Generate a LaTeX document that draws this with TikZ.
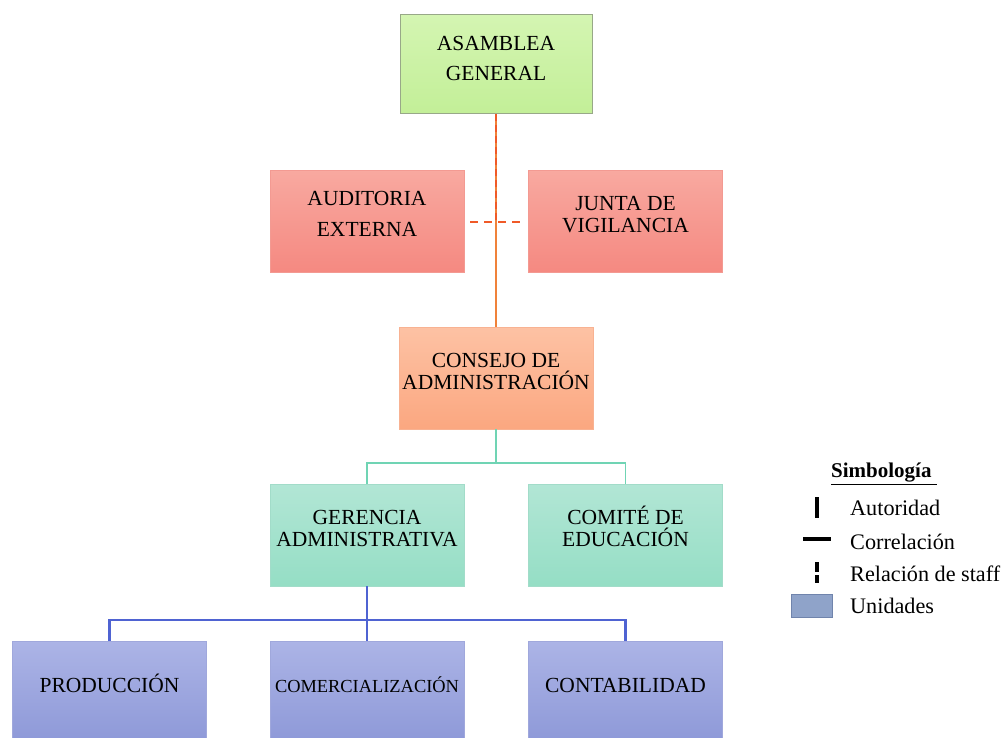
\documentclass[tikz,border=0pt]{standalone}
\usepackage{fontspec}
\setmainfont{Liberation Serif}

\definecolor{asTop}{HTML}{D4F5B2}
\definecolor{asBot}{HTML}{C3EF98}
\definecolor{asLine}{HTML}{98A888}
\definecolor{rojoTop}{HTML}{F8A9A0}
\definecolor{rojoBot}{HTML}{F58981}
\definecolor{rojoLine}{HTML}{F39A92}
\definecolor{naTop}{HTML}{FDC2A4}
\definecolor{naBot}{HTML}{FBA780}
\definecolor{naLine}{HTML}{F8B292}
\definecolor{veTop}{HTML}{B2E6D5}
\definecolor{veBot}{HTML}{95DEC5}
\definecolor{veLine}{HTML}{A2DCC9}
\definecolor{azTop}{HTML}{ACB4E6}
\definecolor{azBot}{HTML}{8E99D8}
\definecolor{azLine}{HTML}{A0A8DC}
\definecolor{staffC}{HTML}{F05A28}
\definecolor{autC}{HTML}{F0823A}
\definecolor{corrC}{HTML}{70D4B4}
\definecolor{unidC}{HTML}{4F63D2}
\definecolor{legFill}{HTML}{8FA3C9}
\definecolor{legLine}{HTML}{7084AC}

\begin{document}
\begin{tikzpicture}[x=1pt, y=-1pt,
  box/.style={minimum width=194pt, minimum height=102pt, inner sep=0pt, align=center,
    line width=0.8pt, text height=37pt, text depth=13.4pt,
    font=\fontsize{21.5}{22}\selectfont},
  unidadbox/.style={box, minimum height=100pt, text height=15pt, text depth=11.4pt,
    top color=azTop, bottom color=azBot, draw=azLine},
  leyenda/.style={anchor=west, inner sep=0pt, font=\fontsize{22.2}{24}\selectfont}]
  \useasboundingbox (0,0) rectangle (1004,737);

  % cajas
  \node[box, minimum width=192pt, minimum height=99pt, text height=45pt, text depth=12.4pt, top color=asTop, bottom color=asBot, draw=asLine] (asamblea) at (496,64) {ASAMBLEA\\[8pt]GENERAL};
  \node[box, text height=46pt, text depth=14.4pt, top color=rojoTop, bottom color=rojoBot, draw=rojoLine] (auditoria) at (367,221) {AUDITORIA\\[9pt]EXTERNA};
  \node[box, top color=rojoTop, bottom color=rojoBot, draw=rojoLine] (junta) at (625.5,221) {JUNTA DE\\VIGILANCIA};
  \node[box, top color=naTop, bottom color=naBot, draw=naLine] (consejo) at (496,378) {CONSEJO DE\\ADMINISTRACIÓN};
  \node[box, top color=veTop, bottom color=veBot, draw=veLine] (gerencia) at (367,535) {GERENCIA\\ADMINISTRATIVA};
  \node[box, top color=veTop, bottom color=veBot, draw=veLine] (comite) at (625.5,535) {COMITÉ DE\\EDUCACIÓN};
  \node[unidadbox] (produccion) at (109.5,691) {PRODUCCIÓN};
  \node[unidadbox, font=\fontsize{18.4}{20}\selectfont] (comercializacion) at (367,691) {COMERCIALIZACIÓN};
  \node[unidadbox] (contabilidad) at (625.5,691) {CONTABILIDAD};

  % lineas
  \coordinate (cruce) at (asamblea.south |- 0,222);
  \coordinate (ramaC) at (consejo.south |- 0,463);
  \coordinate (ramaG) at (gerencia.south |- 0,620);
  \draw[autC, line width=1.5pt] (asamblea.south) -- (consejo.north);
  \draw[staffC, line width=2.5pt, dash pattern=on 7pt off 4pt] (asamblea.south) -- (cruce);
  \draw[staffC, line width=2.5pt, dash pattern=on 8pt off 6pt, shorten <=6pt, shorten >=5pt] (auditoria.east |- cruce) -- (junta.west |- cruce);
  \draw[corrC, line width=1.5pt] (consejo.south) -- (ramaC);
  \draw[corrC, line width=1.5pt] (gerencia.north) |- (ramaC) -| (comite.north);
  \draw[unidC, line width=2.5pt] (gerencia.south) -- (comercializacion.north);
  \draw[unidC, line width=2.5pt] (produccion.north) |- (ramaG) -| (contabilidad.north);

  % simbologia
  \node[font=\fontsize{21}{22}\selectfont\bfseries, inner sep=0pt] (simbologia) at (884,474) {\underline{Simbología\ }};
  \node[leyenda] (autoridad) at (850,508) {Autoridad};
  \node[leyenda] (correlacion) at (850,542) {Correlación};
  \node[leyenda] (relacion) at (850,574) {Relación de staff};
  \node[leyenda] (unidades) at (850,606) {Unidades};
  \draw[line width=4pt] (817,497) -- (817,518);
  \draw[line width=4pt] (803,539) -- (831,539);
  \draw[line width=4pt] (817,562) -- (817,572) (817,575) -- (817,583);
  \node[draw=legLine, fill=legFill, line width=1.2pt, minimum width=41pt, minimum height=23pt, inner sep=0pt] (unidad) at (812,606) {};
\end{tikzpicture}
\end{document}
